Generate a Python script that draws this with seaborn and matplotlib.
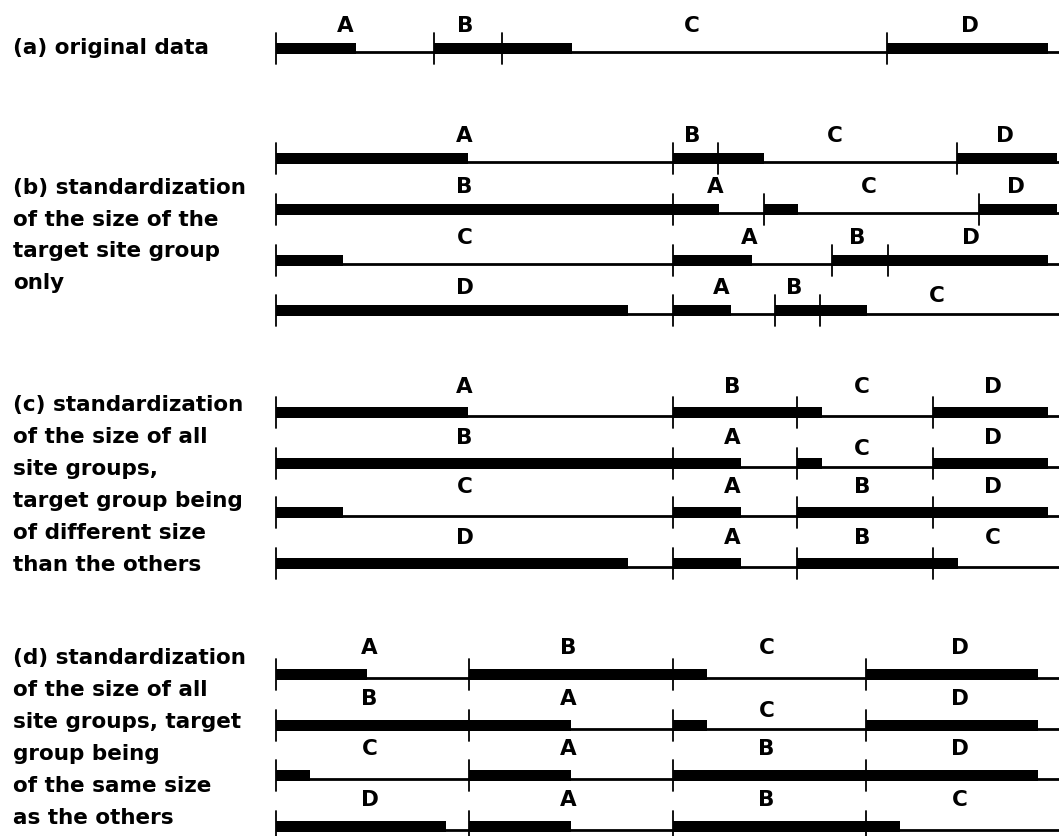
import matplotlib
matplotlib.use("Agg")
import matplotlib.pyplot as plt
import seaborn as sns

# ---------------- data (x measured along the site axis) ----------------
AXIS_END = 783

# (a) original data
a_orders = [["A", "B", "C", "D"]]
a_starts = [[0, 158, 226, 611]]
a_filled = [[80, 68, 70, 161]]

# (b) standardization of the target group only
b_orders = [["A", "B", "C", "D"], ["B", "A", "C", "D"],
            ["C", "A", "B", "D"], ["D", "A", "B", "C"]]
b_starts = [[0, 397, 442, 681], [0, 397, 488, 703],
            [0, 397, 556, 612], [0, 397, 499, 544]]
b_filled = [[192, 45, 46, 100], [397, 46, 34, 78],
            [67, 79, 56, 160], [352, 58, 45, 47]]

# (c) all groups standardized, target group of different size
c_orders = b_orders
c_starts = [[0, 397, 521, 657]] * 4
c_filled = [[192, 124, 25, 115], [397, 68, 25, 115],
            [67, 68, 136, 115], [352, 68, 136, 25]]

# (d) all groups standardized, same size
d_orders = b_orders
d_starts = [[0, 193, 397, 590]] * 4
d_filled = [[91, 204, 34, 172], [193, 102, 34, 172],
            [34, 102, 193, 172], [170, 102, 193, 34]]

panel_texts = {
    "a": ["(a) original data"],
    "b": ["(b) standardization", "of the size of the", "target site group", "only"],
    "c": ["(c) standardization", "of the size of all", "site groups,",
          "target group being", "of different size", "than the others"],
    "d": ["(d) standardization", "of the size of all", "site groups, target",
          "group being", "of the same size", "as the others"],
}

# labels drawn lower to avoid crowding: (panel, row, letter)
lowered = {("b", 3, "C"), ("c", 1, "C"), ("d", 1, "C")}

# ---------------- layout ----------------
row_y = {"a": [52], "b": [162, 213, 264, 314],
         "c": [416, 467, 516, 567], "d": [678, 729, 779, 830]}
text_y = {"a": [48], "b": [188, 220, 251, 283],
          "c": [405, 437, 469, 501, 533, 565],
          "d": [658, 690, 722, 754, 786, 818]}
label_off = {"a": -26, "b": -26, "c": -29, "d": -30}

sns.set_theme(style="white")
plt.rcParams["font.family"] = ["DejaVu Sans"]

W, H = 1059, 836
fig = plt.figure(figsize=(W / 100, H / 100), dpi=100)
ax = fig.add_axes([0, 0, 1, 1])
ax.set_xlim(-276, W - 276)
ax.set_ylim(H, 0)
ax.axis("off")
sns.despine(ax=ax, left=True, bottom=True)

panels = {"a": (a_orders, a_starts, a_filled),
          "b": (b_orders, b_starts, b_filled),
          "c": (c_orders, c_starts, c_filled),
          "d": (d_orders, d_starts, d_filled)}

FS = 15.5
for key, (orders, starts, filled) in panels.items():
    for r, (order, st, fl) in enumerate(zip(orders, starts, filled)):
        y = row_y[key][r]
        ax.plot([0, AXIS_END], [y, y], color="black", lw=2.0,
                solid_capstyle="butt", zorder=2)
        ends = st[1:] + [AXIS_END]
        for g, s, e, f in zip(order, st, ends, fl):
            ax.add_patch(plt.Rectangle((s, y - 9.5), f, 11, color="black",
                                       lw=0, zorder=3))
            ax.plot([s, s], [y - 19, y + 12], color="black", lw=1.3, zorder=4)
            shift = -10 if s == 0 and key != "d" else -3
            dy = -18 if (key, r, g) in lowered else label_off[key]
            ax.text((s + e) / 2 + shift, y + dy, g, ha="center", va="center",
                    fontsize=FS, fontweight="bold", color="black")
    for line, ty in zip(panel_texts[key], text_y[key]):
        ax.text(-263, ty, line, ha="left", va="center", fontsize=FS,
                fontweight="bold", color="black")

fig.savefig("out.png", dpi=100, facecolor="white")
